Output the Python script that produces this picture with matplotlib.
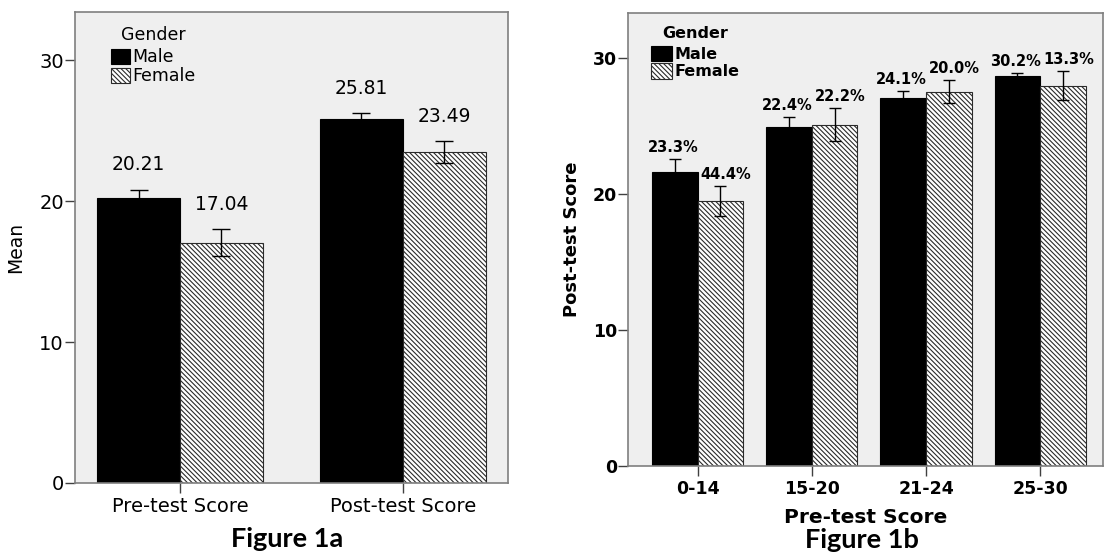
"""Two-panel SPSS-style bar chart: score means by gender (Figure 1a / 1b)."""

import matplotlib

matplotlib.use("Agg")
import matplotlib.pyplot as plt  # noqa: E402
import numpy as np  # noqa: E402

# --------------------------------------------------------------------------------------
# Data
# --------------------------------------------------------------------------------------
GROUPS = ["Male", "Female"]

LEFT_CATEGORIES = ["Pre-test Score", "Post-test Score"]
LEFT_MALE = [20.21, 25.81]
LEFT_FEMALE = [17.04, 23.49]
LEFT_MALE_ERR = [0.61, 0.44]
LEFT_FEMALE_ERR = [0.96, 0.79]

RIGHT_CATEGORIES = ["0-14", "15-20", "21-24", "25-30"]
RIGHT_MALE = [21.65, 24.9, 27.08, 28.65]
RIGHT_FEMALE = [19.5, 25.1, 27.54, 27.98]
RIGHT_MALE_ERR = [0.9, 0.75, 0.5, 0.27]
RIGHT_FEMALE_ERR = [1.1, 1.2, 0.83, 1.08]
RIGHT_MALE_PCT = ["23.3%", "22.4%", "24.1%", "30.2%"]
RIGHT_FEMALE_PCT = ["44.4%", "22.2%", "20.0%", "13.3%"]

YTICKS = [0, 10, 20, 30]

# --------------------------------------------------------------------------------------
# Style
# --------------------------------------------------------------------------------------
FONT = "DejaVu Sans"
CAPTION_FONT = "Lato"
PANEL_BG = "#EFEFEF"
FRAME = "#7F7F7F"
HATCH = "\\" * 7

plt.rcParams.update(
    {
        "font.family": FONT,
        "hatch.linewidth": 0.8,
        "hatch.color": "#454545",
        "axes.linewidth": 1.2,
    }
)


def style_axes(ax, weight, size):
    ax.set_facecolor(PANEL_BG)
    for spine in ax.spines.values():
        spine.set_color(FRAME)
    ax.tick_params(axis="both", direction="out", length=7, width=1.0, color="#404040")
    ax.tick_params(axis="y", labelsize=size, pad=1)
    ax.tick_params(axis="x", labelsize=size, pad=3)
    ax.set_yticks(YTICKS)
    for lab in ax.get_yticklabels() + ax.get_xticklabels():
        lab.set_fontweight(weight)


def draw_bars(ax, x, male, female, male_err, female_err, width, capsize):
    ax.bar(x - width / 2, male, width, color="black", edgecolor="black",
           linewidth=0.8, label=GROUPS[0], zorder=2)
    ax.bar(x + width / 2, female, width, color="white", edgecolor="#2A2A2A",
           linewidth=0.8, hatch=HATCH, label=GROUPS[1], zorder=2)
    ax.errorbar(x - width / 2, male, yerr=male_err, fmt="none", ecolor="black",
                elinewidth=1.0, capsize=capsize, capthick=1.0, zorder=3)
    ax.errorbar(x + width / 2, female, yerr=female_err, fmt="none",
                ecolor="black", elinewidth=1.0, capsize=capsize, capthick=1.0,
                zorder=3)


def add_legend(ax, weight, size, anchor, hl, hh):
    leg = ax.legend(
        loc="upper left",
        bbox_to_anchor=anchor,
        frameon=False,
        title="Gender",
        handlelength=hl,
        handleheight=hh,
        handletextpad=0.15,
        labelspacing=0.05,
        borderaxespad=0.0,
        prop={"family": FONT, "size": size, "weight": weight},
        title_fontproperties={"family": FONT, "size": size, "weight": weight},
    )
    leg._legend_box.sep = 3


fig = plt.figure(figsize=(11.04, 5.53), dpi=100)

# ---------------- Figure 1a ----------------
ax1 = fig.add_axes([0.0679, 0.1266, 0.3922, 0.8512])
x1 = np.arange(len(LEFT_CATEGORIES))
w1 = 0.372
draw_bars(ax1, x1, LEFT_MALE, LEFT_FEMALE, LEFT_MALE_ERR, LEFT_FEMALE_ERR, w1, 6.3)
ax1.set_xlim(-0.471, 1.471)
ax1.set_ylim(0, 33.4)
ax1.set_xticks(x1)
ax1.set_xticklabels(LEFT_CATEGORIES)
style_axes(ax1, "normal", 14)
ax1.set_ylabel("Mean", fontsize=13.5, labelpad=10)
for xi, v, e in zip(x1, LEFT_MALE, LEFT_MALE_ERR):
    ax1.annotate(f"{v:.2f}", (xi - w1 / 2, v + e), xytext=(0, 11),
                 textcoords="offset points", ha="center", va="bottom",
                 fontsize=13.5)
for xi, v, e in zip(x1, LEFT_FEMALE, LEFT_FEMALE_ERR):
    ax1.annotate(f"{v:.2f}", (xi + w1 / 2, v + e), xytext=(0, 11),
                 textcoords="offset points", ha="center", va="bottom",
                 fontsize=13.5)
add_legend(ax1, "normal", 12.5, (0.068, 0.985), 1.05, 0.95)

# ---------------- Figure 1b ----------------
ax2 = fig.add_axes([0.5688, 0.1573, 0.4303, 0.8187])
x2 = np.arange(len(RIGHT_CATEGORIES))
w2 = 0.4
draw_bars(ax2, x2, RIGHT_MALE, RIGHT_FEMALE, RIGHT_MALE_ERR, RIGHT_FEMALE_ERR, w2, 4.3)
ax2.set_xlim(-0.61, 3.55)
ax2.set_ylim(0, 33.3)
ax2.set_xticks(x2)
ax2.set_xticklabels(RIGHT_CATEGORIES)
style_axes(ax2, "bold", 12.5)
ax2.set_ylabel("Post-test Score", fontsize=13, fontweight="bold", labelpad=8)
ax2.set_xlabel("Pre-test Score", fontsize=14.5, fontweight="bold", labelpad=7)
for xi, v, e, t in zip(x2, RIGHT_MALE, RIGHT_MALE_ERR, RIGHT_MALE_PCT):
    ax2.annotate(t, (xi - w2 / 2, v + e), xytext=(-1, 3),
                 textcoords="offset points", ha="center", va="bottom",
                 fontsize=10.5, fontweight="bold")
for xi, v, e, t in zip(x2, RIGHT_FEMALE, RIGHT_FEMALE_ERR, RIGHT_FEMALE_PCT):
    ax2.annotate(t, (xi + w2 / 2, v + e), xytext=(4, 3),
                 textcoords="offset points", ha="center", va="bottom",
                 fontsize=10.5, fontweight="bold")
add_legend(ax2, "bold", 11.5, (0.035, 0.985), 1.3, 1.15)

# ---------------- captions ----------------
fig.text(287 / 1104, 1 - 539 / 553, "Figure 1a", ha="center", va="center",
         fontsize=19.5, fontweight="bold", family=CAPTION_FONT)
fig.text(862 / 1104, 1 - 540 / 553, "Figure 1b", ha="center", va="center",
         fontsize=19.5, fontweight="bold", family=CAPTION_FONT)

fig.savefig("out.png", dpi=100, facecolor="white")
